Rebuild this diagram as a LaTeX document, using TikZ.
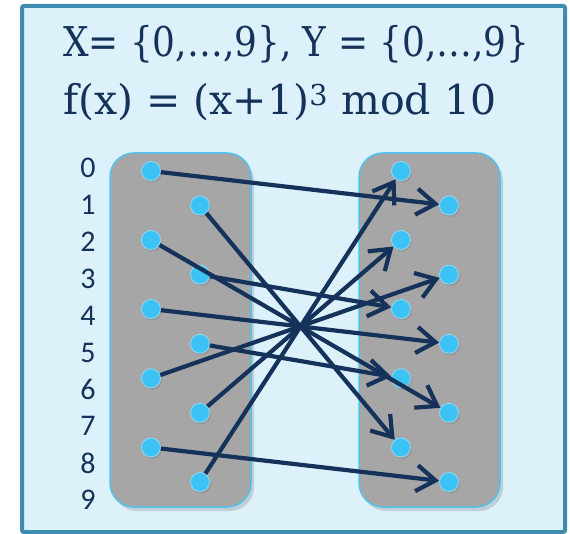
\documentclass[tikz,border=0pt]{standalone}
\usepackage{fontspec}
\usepackage{graphicx}
\setmainfont{DejaVu Serif}
\newfontfamily\labelfont{Carlito}
\usepackage{tikz}
\usetikzlibrary{arrows.meta,shadows}
\definecolor{frameBg}{HTML}{DDF1FA}
\definecolor{frameBd}{HTML}{3F8DAE}
\definecolor{setFill}{HTML}{A6A6A6}
\definecolor{setBd}{HTML}{4FC3EE}
\definecolor{dotFill}{HTML}{3CC2F4}
\definecolor{dotBd}{HTML}{8ED9F6}
\definecolor{ink}{HTML}{14325A}
\tikzset{
  setbox/.style={
    rectangle, rounded corners=24pt, fill=setFill, draw=setBd,
    line width=1.5pt, minimum width=141pt, minimum height=354pt,
    drop shadow={opacity=0.3, shadow xshift=3pt, shadow yshift=-4pt}
  },
  elem/.style={
    circle, fill=dotFill, draw=dotBd, line width=0.8pt,
    minimum size=19pt, inner sep=0pt,
    drop shadow={opacity=0.35, shadow xshift=1.5pt, shadow yshift=-2pt}
  },
  num/.style={font=\labelfont\fontsize{30}{30}\selectfont, text=ink, inner sep=0pt},
  title/.style={font=\fontsize{41}{41}\selectfont, text=ink, inner sep=0pt, anchor=base west},
  mapsto/.style={-{Straight Barb[length=19pt,width=26pt]}, line width=4.2pt, draw=ink}
}

\begin{document}
\begin{tikzpicture}[x=1pt, y=-1pt]
  \useasboundingbox (0,0) rectangle (570,534);
  % frame
  \draw[fill=frameBg, draw=frameBd, line width=4pt, rounded corners=2pt] (22,6) rectangle (565,532);

  % title
  \node[title] (defsets) at (63,57)  {\scalebox{0.875}[1]{X= \{0,…,9\}, Y = \{0,…,9\}}};
  \node[title] (deffun)  at (63,115) {f(x) = (x+1)\textsuperscript{3} mod 10};

  % domain and codomain
  \node[setbox] (domX) at (180.5,330) {};
  \node[setbox] (domY) at (429.5,330) {};

  % labels
  \node[num] (n0) at (88,168)   {0};
  \node[num] (n1) at (88,204.9) {1};
  \node[num] (n2) at (88,241.8) {2};
  \node[num] (n3) at (88,278.7) {3};
  \node[num] (n4) at (88,315.6) {4};
  \node[num] (n5) at (88,352.5) {5};
  \node[num] (n6) at (88,389.4) {6};
  \node[num] (n7) at (88,426.3) {7};
  \node[num] (n8) at (88,463.2) {8};
  \node[num] (n9) at (88,500.1) {9};

  % elements of X
  \node[elem] (x0) at (151,171)   {};
  \node[elem] (x1) at (200,205.5) {};
  \node[elem] (x2) at (151,240)   {};
  \node[elem] (x3) at (200,274.6) {};
  \node[elem] (x4) at (151,309)   {};
  \node[elem] (x5) at (200,343.8) {};
  \node[elem] (x6) at (151,378.3) {};
  \node[elem] (x7) at (200,412.8) {};
  \node[elem] (x8) at (151,447.4) {};
  \node[elem] (x9) at (200,482)   {};

  % elements of Y
  \node[elem] (y0) at (401,171)   {};
  \node[elem] (y1) at (449,205.5) {};
  \node[elem] (y2) at (401,240)   {};
  \node[elem] (y3) at (449,274.6) {};
  \node[elem] (y4) at (401,309)   {};
  \node[elem] (y5) at (449,343.8) {};
  \node[elem] (y6) at (401,378.3) {};
  \node[elem] (y7) at (449,412.8) {};
  \node[elem] (y8) at (401,447.4) {};
  \node[elem] (y9) at (449,482)   {};

  % f(x) = (x+1)^3 mod 10
  \draw[mapsto] (x0) -- (y1);
  \draw[mapsto] (x1) -- (y8);
  \draw[mapsto] (x2) -- (y7);
  \draw[mapsto] (x3) -- (y4);
  \draw[mapsto] (x4) -- (y5);
  \draw[mapsto] (x5) -- (y6);
  \draw[mapsto] (x6) -- (y3);
  \draw[mapsto] (x7) -- (y2);
  \draw[mapsto] (x8) -- (y9);
  \draw[mapsto] (x9) -- (y0);
\end{tikzpicture}
\end{document}
